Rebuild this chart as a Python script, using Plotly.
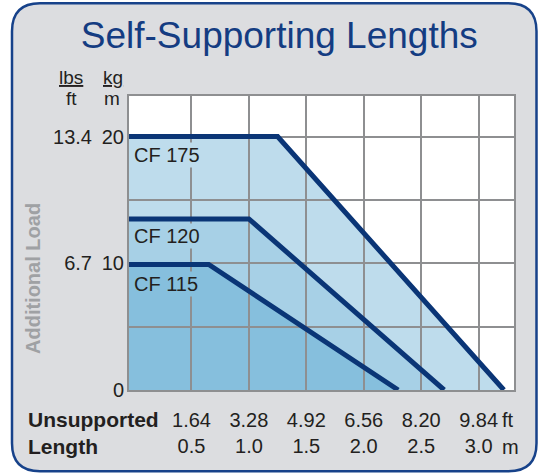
import plotly.graph_objects as go

# ---------------- data ----------------
series_names = ["CF 175", "CF 120", "CF 115"]
load_levels = [20, 13.5, 9.9]        # kg/m, flat part of each curve
knee_lengths = [1.25, 1.0, 0.65]     # m, where the load starts to fall
end_lengths = [3.22, 2.70, 2.30]     # m, where the load reaches zero

x_tickvals = [0.5, 1.0, 1.5, 2.0, 2.5, 3.0]
x_ticks_ft = ["1.64", "3.28", "4.92", "6.56", "8.20", "9.84"]
x_ticks_m = ["0.5", "1.0", "1.5", "2.0", "2.5", "3.0"]
y_tickvals = [0, 5, 10, 15, 20]
y_ticks_kg = ["0", "", "10", "", "20"]
y_lbs_tickvals = [10, 20]
y_ticks_lbs = ["6.7", "13.4"]

X_RANGE = [-0.044, 3.308]
Y_RANGE = [0, 23.2]

# ---------------- style ----------------
W, H = 551, 476
ML, MR, MT, MB = 129, 37, 96, 86
FONT = "Liberation Sans, Arial, Helvetica, sans-serif"
NAVY = "#0a3576"
TITLE_BLUE = "#143c82"
GRID = "#8e8f91"
TEXT = "#231f20"
FRAME_BG = "#dcdde0"
FILLS = ["#bedcec", "#a7d0e6", "#86bfdd"]


def px(x):
    return (x - ML) / (W - ML - MR)


def py(y):
    return (H - MB - y) / (H - MT - MB)


fig = go.Figure()

# fills (lower subplot, no grid)
for name, lvl, kn, en, fc in zip(series_names, load_levels, knee_lengths, end_lengths, FILLS):
    fig.add_trace(go.Scatter(
        x=[X_RANGE[0], kn, en], y=[lvl, lvl, 0], mode="lines",
        line=dict(width=0), fill="tozeroy", fillcolor=fc,
        xaxis="x", yaxis="y", hoverinfo="skip", showlegend=False))

# lines (upper subplot, grid drawn above fills)
for name, lvl, kn, en in zip(series_names, load_levels, knee_lengths, end_lengths):
    fig.add_trace(go.Scatter(
        x=[X_RANGE[0], kn, en], y=[lvl, lvl, 0], mode="lines", name=name,
        line=dict(width=5, color=NAVY), xaxis="x2", yaxis="y2",
        showlegend=False))

# dummy trace so the lbs/ft axis is drawn
fig.add_trace(go.Scatter(x=[None], y=[None], xaxis="x2", yaxis="y3",
                         showlegend=False, hoverinfo="skip"))

# frame
x0, x1, y0, y1, r = 12, 536.5, 3.3, 471.3, 28
path = (f"M {px(x0 + r)},{py(y0)} L {px(x1 - r)},{py(y0)} "
        f"Q {px(x1)},{py(y0)} {px(x1)},{py(y0 + r)} "
        f"L {px(x1)},{py(y1 - r)} Q {px(x1)},{py(y1)} {px(x1 - r)},{py(y1)} "
        f"L {px(x0 + r)},{py(y1)} Q {px(x0)},{py(y1)} {px(x0)},{py(y1 - r)} "
        f"L {px(x0)},{py(y0 + r)} Q {px(x0)},{py(y0)} {px(x0 + r)},{py(y0)} Z")
shapes = [
    dict(type="path", path=path, xref="paper", yref="paper", layer="below",
         fillcolor=FRAME_BG, line=dict(color="#17428a", width=2.5)),
    dict(type="rect", x0=0, x1=1, y0=0, y1=1, xref="paper", yref="paper",
         layer="below", fillcolor="white", line=dict(width=0)),
]

annotations = []
label_y = [155, 236, 284]
for name, yy, fc in zip(series_names, label_y, FILLS):
    annotations.append(dict(text=name, x=px(132), y=py(yy), xref="paper", yref="paper",
                            xanchor="left", yanchor="middle", showarrow=False,
                            bgcolor=fc, borderpad=1,
                            font=dict(family=FONT, size=20, color=TEXT)))

def ann(text, x, y, size=20, color=TEXT, xanchor="center", angle=0):
    annotations.append(dict(text=text, x=px(x), y=py(y), xref="paper", yref="paper",
                            xanchor=xanchor, yanchor="middle", showarrow=False,
                            textangle=angle,
                            font=dict(family=FONT, size=size, color=color)))

ann("<u>lbs</u>", 71, 78, size=19)
ann("ft", 71, 98, size=19)
ann("<u>kg</u>", 113, 78, size=19)
ann("m", 112, 98, size=19)
ann("<b>Additional Load</b>", 33, 279, color="#9fa1a4", angle=-90)
ann("<b>Unsupported</b>", 26, 420, size=21, xanchor="left")
ann("<b>Length</b>", 26, 447, size=21, xanchor="left")
ann("ft", 500, 420, xanchor="left")
ann("m", 500, 447, xanchor="left")

axis_common = dict(showgrid=True, gridcolor=GRID, gridwidth=2, showline=True,
                   mirror=True, linecolor=GRID, linewidth=2, ticks="",
                   zeroline=False, tickfont=dict(family=FONT, size=20, color=TEXT))

fig.update_layout(
    width=W, height=H,
    margin=dict(l=ML, r=MR, t=MT, b=MB),
    paper_bgcolor="white", plot_bgcolor="rgba(0,0,0,0)",
    title=dict(text="Self-Supporting Lengths", x=279.3 / W, xanchor="center",
               y=1 - 35 / H, yanchor="middle", yref="container",
               font=dict(family=FONT, size=37, color=TITLE_BLUE)),
    xaxis=dict(range=X_RANGE, visible=False, anchor="y", domain=[0, 1]),
    yaxis=dict(range=Y_RANGE, visible=False, anchor="x", domain=[0, 1]),
    xaxis2=dict(range=X_RANGE, anchor="y2", domain=[0, 1],
                tickvals=x_tickvals,
                ticktext=[f"{a}<br>{b}" for a, b in zip(x_ticks_ft, x_ticks_m)],
                ticklabelstandoff=11, **axis_common),
    yaxis2=dict(range=Y_RANGE, anchor="x2", domain=[0, 1],
                tickvals=y_tickvals, ticktext=y_ticks_kg,
                ticklabelstandoff=-1, **axis_common),
    yaxis3=dict(range=Y_RANGE, anchor="x2", overlaying="y2", side="left",
                tickvals=y_lbs_tickvals, ticktext=y_ticks_lbs,
                showgrid=False, showline=False, zeroline=False, ticks="",
                ticklabelstandoff=36,
                tickfont=dict(family=FONT, size=20, color=TEXT)),
    shapes=shapes, annotations=annotations,
)

fig.write_html("out.html", config={"displayModeBar": False},
               post_script="document.body.style.margin='0';")
